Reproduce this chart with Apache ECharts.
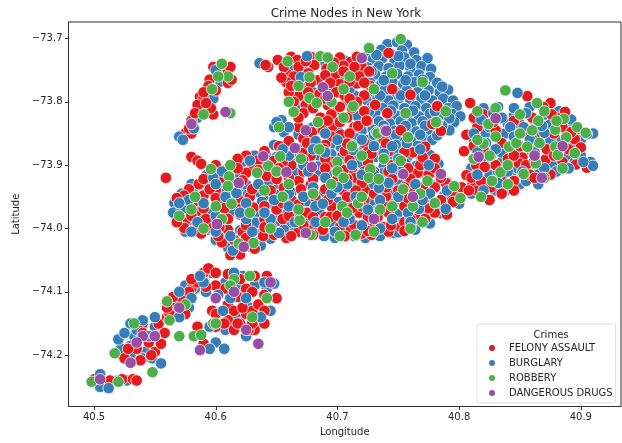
<!DOCTYPE html>
<html>
<head>
<meta charset="utf-8">
<title>Crime Nodes in New York</title>
<script src="https://cdn.jsdelivr.net/npm/echarts@6/dist/echarts.min.js"></script>
<style>
    html, body { margin: 0; padding: 0; background: #fff; }
    #main { width: 622px; height: 443px; }
</style>
</head>
<body>
<div id="main"></div>
<script type="text/javascript">
    var categories = ['FELONY ASSAULT', 'BURGLARY', 'ROBBERY', 'DANGEROUS DRUGS'];
    var xTicks = [40.5, 40.6, 40.7, 40.8, 40.9];
    var yTicks = [-74.2, -74.1, -74.0, -73.9, -73.8, -73.7];

    // [longitude, latitude]
    var burglary = [
        // north east bump
        [40.741,-73.709],[40.749,-73.706],[40.757,-73.71],[40.726,-73.722],[40.736,-73.718],[40.744,-73.724],[40.753,-73.719],[40.763,-73.722],
        [40.729,-73.733],[40.737,-73.731],[40.747,-73.735],[40.755,-73.73],[40.765,-73.734],[40.774,-73.731],[40.725,-73.746],[40.734,-73.744],
        [40.742,-73.747],[40.751,-73.743],[40.76,-73.747],[40.769,-73.744],[40.777,-73.748],[40.722,-73.759],[40.731,-73.757],[40.74,-73.76],
        [40.749,-73.756],[40.758,-73.76],[40.767,-73.757],[40.776,-73.761],[40.727,-73.77],[40.736,-73.772],[40.745,-73.768],[40.754,-73.772],
        [40.763,-73.769],[40.772,-73.773],[40.782,-73.77],[40.73,-73.784],[40.739,-73.781],[40.748,-73.785],[40.757,-73.782],[40.766,-73.785],
        [40.775,-73.782],[40.784,-73.785],[40.791,-73.781],[40.724,-73.797],[40.733,-73.795],[40.742,-73.798],[40.751,-73.794],[40.76,-73.798],
        [40.769,-73.795],[40.778,-73.798],[40.787,-73.795],[40.795,-73.798],[40.728,-73.808],[40.737,-73.81],[40.746,-73.806],[40.755,-73.81],
        [40.764,-73.807],[40.773,-73.81],[40.782,-73.806],[40.791,-73.81],[40.798,-73.807],[40.722,-73.821],[40.731,-73.819],[40.749,-73.822],
        [40.758,-73.82],[40.767,-73.823],[40.776,-73.819],[40.785,-73.822],[40.794,-73.819],[40.801,-73.823],[40.725,-73.833],[40.734,-73.831],
        [40.743,-73.834],[40.752,-73.831],[40.761,-73.834],[40.77,-73.831],[40.779,-73.834],[40.796,-73.832],[40.72,-73.846],[40.729,-73.844],
        [40.747,-73.846],[40.756,-73.844],[40.765,-73.847],[40.774,-73.844],[40.792,-73.845],[40.716,-73.858],[40.725,-73.86],[40.734,-73.857],
        [40.743,-73.86],[40.752,-73.858],[40.761,-73.861],[40.77,-73.857],[40.778,-73.86],
        [40.732,-73.726],[40.75,-73.728],[40.76,-73.74],[40.728,-73.752],[40.738,-73.766],[40.756,-73.766],[40.77,-73.765],[40.735,-73.79],
        [40.752,-73.79],[40.772,-73.79],[40.786,-73.776],[40.726,-73.815],[40.744,-73.814],[40.762,-73.814],[40.78,-73.815],[40.792,-73.826],
        [40.738,-73.838],[40.756,-73.838],[40.772,-73.838],[40.786,-73.838],[40.73,-73.852],[40.748,-73.852],[40.768,-73.852],[40.782,-73.853],
        [40.714,-73.79],[40.707,-73.8],[40.713,-73.876],[40.675,-73.728],[40.67,-73.761],[40.636,-73.739],
        [40.654,-73.829],[40.65,-73.832],[40.66,-73.84],[40.648,-73.84],[40.656,-73.848],[40.668,-73.852],
        [40.66,-73.745],[40.672,-73.75],[40.69,-73.738],[40.706,-73.735],[40.665,-73.77],[40.69,-73.765],[40.706,-73.765],[40.68,-73.785],
        [40.692,-73.78],[40.71,-73.78],[40.67,-73.81],[40.7,-73.812],[40.716,-73.822],[40.68,-73.84],[40.7,-73.845],
        // middle
        [40.722,-73.875],[40.734,-73.872],[40.746,-73.875],[40.757,-73.873],[40.768,-73.885],[40.775,-73.895],[40.742,-73.888],[40.728,-73.89],
        [40.715,-73.892],[40.742,-73.928],[40.752,-73.925],[40.764,-73.93],[40.734,-73.936],[40.776,-73.94],[40.767,-73.969],[40.789,-73.969],
        [40.75,-73.955],[40.758,-73.975],[40.776,-73.958],[40.735,-73.955],[40.745,-73.985],[40.725,-73.972],[40.71,-73.985],[40.682,-73.965],
        [40.688,-73.961],[40.695,-73.948],[40.672,-73.95],[40.66,-73.965],[40.648,-73.955],[40.652,-74.007],[40.682,-73.995],[40.72,-73.995],
        [40.698,-74.008],[40.665,-73.99],[40.645,-73.985],[40.708,-73.93],[40.69,-73.92],[40.672,-73.9],[40.66,-73.885],[40.69,-73.88],
        [40.7,-73.865],[40.682,-73.862],[40.668,-73.875],[40.65,-73.91],[40.635,-73.93],[40.625,-73.96],[40.64,-73.975],[40.625,-73.985],
        [40.62,-73.94],[40.64,-73.955],[40.605,-73.91],[40.598,-73.915],[40.617,-73.944],[40.608,-73.95],[40.59,-73.96],[40.578,-73.955],
        [40.6,-73.975],[40.585,-73.985],[40.572,-73.97],[40.614,-74.035],[40.63,-74.005],[40.612,-74.012],[40.6,-74.005],[40.582,-74.005],
        [40.648,-73.868],[40.657,-73.872],[40.676,-73.87],[40.685,-73.873],[40.694,-73.869],[40.703,-73.872],[40.712,-73.868],[40.73,-73.871],[40.748,-73.868],[40.766,-73.87],
        [40.632,-73.885],[40.641,-73.882],[40.65,-73.887],[40.668,-73.884],[40.686,-73.887],[40.695,-73.883],[40.704,-73.886],[40.722,-73.884],[40.731,-73.887],[40.749,-73.883],[40.758,-73.886],[40.776,-73.884],
        [40.612,-73.9],[40.621,-73.897],[40.63,-73.902],[40.639,-73.898],[40.657,-73.901],[40.666,-73.897],[40.684,-73.902],[40.693,-73.898],[40.702,-73.901],[40.72,-73.897],[40.738,-73.902],[40.756,-73.898],[40.765,-73.901],[40.783,-73.898],
        [40.593,-73.915],[40.602,-73.912],[40.62,-73.916],[40.638,-73.913],[40.647,-73.917],[40.665,-73.912],[40.683,-73.916],[40.692,-73.913],[40.701,-73.917],[40.71,-73.912],[40.719,-73.916],[40.737,-73.913],[40.746,-73.917],[40.764,-73.913],[40.773,-73.916],[40.782,-73.912],
        [40.58,-73.93],[40.589,-73.927],[40.598,-73.932],[40.607,-73.928],[40.625,-73.931],[40.643,-73.928],[40.652,-73.932],[40.661,-73.927],[40.679,-73.931],[40.697,-73.928],[40.715,-73.932],[40.724,-73.927],[40.751,-73.931],[40.76,-73.928],[40.778,-73.932],[40.79,-73.927],
        [40.572,-73.945],[40.581,-73.942],[40.599,-73.946],[40.608,-73.943],[40.626,-73.947],[40.635,-73.942],[40.653,-73.946],[40.662,-73.943],[40.68,-73.947],[40.689,-73.942],[40.707,-73.946],[40.716,-73.943],[40.734,-73.947],[40.743,-73.942],[40.761,-73.946],[40.77,-73.943],[40.788,-73.947],[40.797,-73.942],
        [40.566,-73.96],[40.575,-73.957],[40.584,-73.962],[40.602,-73.958],[40.611,-73.962],[40.638,-73.958],[40.647,-73.962],[40.674,-73.957],[40.683,-73.961],[40.701,-73.958],[40.71,-73.962],[40.728,-73.957],[40.746,-73.961],[40.764,-73.958],[40.782,-73.962],[40.791,-73.957],[40.8,-73.961],
        [40.565,-73.975],[40.578,-73.972],[40.596,-73.976],[40.614,-73.973],[40.632,-73.977],[40.65,-73.972],[40.659,-73.976],[40.668,-73.973],[40.686,-73.977],[40.704,-73.972],[40.713,-73.976],[40.731,-73.973],[40.749,-73.977],[40.767,-73.972],[40.785,-73.976],
        [40.57,-73.99],[40.579,-73.987],[40.597,-73.992],[40.606,-73.988],[40.633,-73.991],[40.651,-73.988],[40.66,-73.992],[40.678,-73.987],[40.696,-73.991],[40.705,-73.988],[40.723,-73.992],[40.732,-73.987],[40.75,-73.991],[40.768,-73.988],[40.776,-73.992],
        [40.575,-74.005],[40.593,-74.002],[40.611,-74.006],[40.62,-74.003],[40.638,-74.007],[40.656,-74.002],[40.665,-74.006],[40.674,-74.003],[40.692,-74.007],[40.71,-74.002],[40.719,-74.006],[40.737,-74.003],[40.746,-74.007],[40.764,-74.002],
        [40.6,-74.018],[40.609,-74.021],[40.627,-74.017],[40.636,-74.02],[40.645,-74.016],[40.689,-74.012],[40.698,-74.015],[40.714,-74.012],[40.723,-74.015],[40.735,-74.012],[40.75,-74.006],
        [40.61,-74.03],[40.618,-74.033],[40.629,-74.029],[40.637,-74.027],
        // east
        [40.812,-73.86],[40.822,-73.85],[40.835,-73.825],[40.84,-73.835],[40.848,-73.786],[40.842,-73.84],[40.853,-73.84],[40.87,-73.849],
        [40.862,-73.83],[40.875,-73.835],[40.89,-73.842],[40.905,-73.851],[40.91,-73.85],[40.91,-73.901],[40.902,-73.895],[40.89,-73.905],
        [40.875,-73.905],[40.86,-73.905],[40.845,-73.915],[40.832,-73.928],[40.82,-73.94],[40.81,-73.905],[40.815,-73.88],[40.83,-73.875],
        [40.845,-73.855],[40.858,-73.86],[40.88,-73.86],[40.85,-73.93],[40.838,-73.94],
        [40.818,-73.828],[40.828,-73.818],[40.845,-73.822],[40.855,-73.818],[40.815,-73.872],[40.824,-73.888],[40.835,-73.895],[40.814,-73.915],[40.825,-73.916],[40.84,-73.905],
        [40.83,-73.94],[40.842,-73.928],[40.852,-73.915],[40.866,-73.91],[40.88,-73.893],[40.858,-73.875],[40.868,-73.838],[40.892,-73.828],[40.898,-73.85],[40.87,-73.87],[40.81,-73.945],
        [40.82,-73.81],[40.832,-73.808],[40.845,-73.81],[40.858,-73.808],[40.87,-73.82],[40.882,-73.815],[40.825,-73.84],[40.838,-73.85],[40.852,-73.85],[40.865,-73.855],
        [40.875,-73.86],[40.892,-73.865],[40.9,-73.86],[40.822,-73.865],[40.835,-73.88],[40.848,-73.878],[40.862,-73.88],[40.875,-73.882],[40.89,-73.885],[40.9,-73.885],
        [40.82,-73.895],[40.832,-73.91],[40.848,-73.905],[40.862,-73.898],[40.878,-73.898],[40.895,-73.895],[40.908,-73.895],[40.815,-73.93],[40.825,-73.93],[40.855,-73.925],[40.865,-73.93],[40.88,-73.91],
        // north west strip
        [40.57,-73.855],[40.573,-73.86],[40.582,-73.842],[40.6,-73.75],[40.608,-73.755],[40.59,-73.81],[40.585,-73.825],[40.598,-73.795],[40.604,-73.768],
        // south west
        [40.505,-74.23],[40.505,-74.25],[40.512,-74.252],[40.52,-74.24],[40.527,-74.24],[40.53,-74.2],[40.52,-74.175],[40.525,-74.165],
        [40.53,-74.15],[40.54,-74.145],[40.55,-74.14],[40.545,-74.17],[40.533,-74.17],[40.522,-74.19],[40.548,-74.205],[40.555,-74.213],
        [40.542,-74.195],[40.565,-74.13],[40.57,-74.14],[40.57,-74.1],[40.58,-74.11],[40.59,-74.085],[40.597,-74.07],[40.587,-74.075],
        [40.602,-74.105],[40.615,-74.07],[40.622,-74.075],[40.64,-74.085],[40.648,-74.087],[40.625,-74.11],[40.645,-74.13],[40.595,-74.155],
        [40.6,-74.18],[40.607,-74.19],[40.595,-74.19],[40.608,-74.16],[40.625,-74.17],[40.63,-74.145],
        [40.535,-74.16],[40.55,-74.155],[40.53,-74.185],[40.54,-74.205],[40.553,-74.17],[40.575,-74.09],[40.583,-74.095],[40.592,-74.1],
        [40.608,-74.085],[40.618,-74.095],[40.632,-74.09],[40.612,-74.11],[40.606,-74.13],[40.618,-74.14],[40.636,-74.135],[40.642,-74.095],[40.628,-74.125],[40.578,-74.125]
    ];
    var felonyAssault = [
        // north mass
        [40.651,-73.734],[40.662,-73.729],[40.667,-73.734],[40.678,-73.729],[40.702,-73.73],[40.711,-73.737],[40.716,-73.729],[40.643,-73.745],[40.641,-73.742],
        [40.658,-73.755],[40.668,-73.745],[40.681,-73.742],[40.691,-73.748],[40.705,-73.743],[40.72,-73.745],[40.664,-73.76],[40.684,-73.766],
        [40.698,-73.758],[40.71,-73.755],[40.726,-73.752],[40.658,-73.769],[40.716,-73.771],[40.672,-73.778],[40.702,-73.772],[40.727,-73.775],
        [40.668,-73.791],[40.685,-73.788],[40.699,-73.785],[40.722,-73.79],[40.66,-73.785],[40.674,-73.805],[40.692,-73.805],[40.712,-73.81],
        [40.672,-73.818],[40.695,-73.82],[40.708,-73.825],[40.686,-73.825],[40.722,-73.815],[40.679,-73.848],[40.696,-73.838],[40.714,-73.84],
        [40.717,-73.838],[40.703,-73.852],[40.688,-73.845],[40.668,-73.84],
        [40.656,-73.745],[40.674,-73.736],[40.697,-73.738],[40.714,-73.745],[40.654,-73.762],[40.676,-73.755],[40.69,-73.758],[40.705,-73.752],[40.718,-73.76],
        [40.662,-73.775],[40.678,-73.77],[40.694,-73.77],[40.71,-73.768],[40.722,-73.77],[40.676,-73.785],[40.69,-73.795],[40.706,-73.79],[40.716,-73.8],
        [40.664,-73.8],[40.68,-73.81],[40.702,-73.808],[40.71,-73.795],[40.668,-73.825],[40.692,-73.83],[40.702,-73.832],[40.71,-73.85],[40.725,-73.83],[40.695,-73.855],[40.672,-73.858],
        // west of the main mass
        [40.66,-73.862],[40.675,-73.865],[40.69,-73.868],[40.706,-73.878],[40.652,-73.87],[40.64,-73.878],[40.648,-73.893],[40.625,-73.885],[40.618,-73.89],
        [40.63,-73.9],[40.642,-73.917],[40.662,-73.9],[40.678,-73.885],[40.695,-73.895],[40.712,-73.905],[40.625,-73.912],[40.6,-73.9],[40.61,-73.905],
        [40.586,-73.93],[40.578,-73.938],[40.574,-73.948],[40.59,-73.948],[40.6,-73.94],[40.612,-73.925],[40.628,-73.95],[40.645,-73.94],[40.656,-73.936],
        [40.668,-73.925],[40.678,-73.931],[40.69,-73.938],[40.704,-73.939],[40.715,-73.92],[40.724,-73.939],[40.62,-73.965],[40.631,-73.967],[40.65,-73.97],
        [40.662,-73.955],[40.675,-73.975],[40.695,-73.965],[40.708,-73.95],[40.718,-73.975],[40.575,-73.987],[40.574,-73.999],[40.568,-73.99],[40.585,-73.972],
        [40.596,-73.999],[40.61,-74.002],[40.61,-73.985],[40.622,-74.005],[40.639,-74.012],[40.646,-73.999],[40.655,-73.985],[40.668,-74.005],[40.62,-74.041],
        [40.625,-74.015],[40.605,-74.022],[40.658,-74.015],[40.68,-74.0],[40.69,-73.982],[40.694,-73.982],[40.71,-74.002],[40.72,-74.008],
        [40.733,-73.982],[40.738,-73.998],[40.728,-74.01],[40.742,-74.005],[40.752,-73.998],[40.74,-73.949],[40.722,-73.955],[40.755,-73.99],[40.765,-73.985],[40.774,-73.979],
        [40.78,-73.975],[40.772,-73.96],[40.762,-73.94],[40.755,-73.965],[40.789,-73.928],[40.794,-73.945],[40.785,-73.955],[40.766,-73.912],[40.78,-73.935],
        [40.73,-73.91],[40.745,-73.9],[40.758,-73.905],[40.772,-73.871],[40.762,-73.88],[40.742,-73.878],[40.722,-73.865],[40.738,-73.86],[40.752,-73.845],
        [40.735,-73.925],[40.75,-73.94],[40.775,-73.915],[40.768,-73.9],[40.725,-73.895],
        [40.655,-73.878],[40.671,-73.881],[40.689,-73.875],[40.708,-73.866],[40.725,-73.879],[40.74,-73.866],[40.755,-73.88],[40.77,-73.888],
        [40.635,-73.892],[40.655,-73.895],[40.672,-73.892],[40.69,-73.89],[40.71,-73.892],[40.728,-73.882],[40.752,-73.892],[40.78,-73.89],
        [40.605,-73.92],[40.618,-73.905],[40.635,-73.908],[40.652,-73.905],[40.672,-73.91],[40.69,-73.905],[40.705,-73.908],[40.722,-73.91],[40.742,-73.91],[40.76,-73.922],[40.78,-73.905],
        [40.59,-73.922],[40.595,-73.938],[40.622,-73.924],[40.65,-73.922],[40.66,-73.92],[40.68,-73.922],[40.7,-73.922],[40.708,-73.922],[40.72,-73.928],[40.745,-73.922],[40.755,-73.935],[40.785,-73.92],
        [40.582,-73.958],[40.6,-73.952],[40.63,-73.938],[40.655,-73.96],[40.67,-73.938],[40.682,-73.952],[40.698,-73.938],[40.715,-73.94],[40.73,-73.945],[40.74,-73.935],[40.77,-73.935],[40.795,-73.958],
        [40.568,-73.952],[40.572,-73.962],[40.59,-73.968],[40.607,-73.968],[40.618,-73.952],[40.64,-73.965],[40.668,-73.962],[40.692,-73.955],[40.72,-73.965],[40.738,-73.965],[40.758,-73.952],[40.775,-73.968],[40.79,-73.978],
        [40.58,-73.98],[40.592,-73.985],[40.62,-73.978],[40.64,-73.985],[40.66,-73.98],[40.68,-73.982],[40.7,-73.98],[40.712,-73.968],[40.725,-73.982],[40.742,-73.975],[40.76,-73.985],[40.772,-73.985],
        [40.585,-73.995],[40.603,-73.998],[40.625,-73.995],[40.64,-73.998],[40.672,-73.995],[40.688,-74.002],[40.702,-73.998],[40.714,-73.995],[40.73,-73.998],[40.744,-73.995],[40.76,-73.997],
        [40.588,-74.008],[40.602,-74.012],[40.615,-74.018],[40.648,-74.01],[40.662,-74.012],[40.68,-74.01],[40.706,-74.012],[40.725,-74.004],[40.755,-74.004],[40.632,-74.032],[40.612,-74.042],
        // red inside the north east bump
        [40.742,-73.723],[40.745,-73.78],[40.76,-73.789],[40.782,-73.807],[40.741,-73.818],[40.785,-73.846],[40.731,-73.805],[40.724,-73.83],[40.778,-73.835],
        // east lobe
        [40.809,-73.802],[40.806,-73.852],[40.804,-73.878],[40.806,-73.916],[40.811,-73.93],[40.814,-73.9],[40.821,-73.903],[40.802,-73.935],[40.815,-73.94],[40.825,-73.955],
        [40.835,-73.945],[40.815,-73.84],[40.82,-73.82],[40.83,-73.845],[40.812,-73.825],[40.856,-73.791],[40.875,-73.802],[40.869,-73.808],[40.887,-73.816],
        [40.88,-73.825],[40.86,-73.825],[40.85,-73.835],[40.895,-73.859],[40.885,-73.84],[40.868,-73.85],[40.852,-73.888],[40.849,-73.897],[40.871,-73.891],
        [40.84,-73.89],[40.83,-73.9],[40.855,-73.9],[40.896,-73.899],[40.905,-73.904],[40.885,-73.895],[40.85,-73.87],[40.835,-73.865],[40.872,-73.875],
        [40.845,-73.925],[40.858,-73.915],[40.875,-73.915],[40.826,-73.885],[40.9,-73.872],
        [40.81,-73.92],[40.818,-73.925],[40.808,-73.94],[40.826,-73.935],[40.845,-73.885],[40.862,-73.892],[40.835,-73.918],[40.845,-73.94],[40.862,-73.92],
        [40.878,-73.885],[40.89,-73.875],[40.828,-73.832],[40.845,-73.83],[40.876,-73.82],[40.892,-73.848],[40.812,-73.87],[40.878,-73.85],[40.82,-73.875],[40.858,-73.85],
        // north west strip
        [40.598,-73.745],[40.602,-73.752],[40.61,-73.75],[40.61,-73.77],[40.613,-73.765],[40.595,-73.765],[40.594,-73.775],[40.587,-73.792],
        [40.598,-73.82],[40.59,-73.795],[40.585,-73.805],[40.58,-73.83],[40.596,-73.81],[40.575,-73.85],[40.58,-73.85],
        [40.6,-73.782],[40.59,-73.785],[40.605,-73.74],[40.612,-73.745],[40.592,-73.802],[40.583,-73.818],[40.578,-73.842],
        // loose points
        [40.559,-73.92],[40.58,-73.887],[40.585,-73.893],[40.588,-73.898],
        // south west
        [40.5,-74.238],[40.513,-74.24],[40.523,-74.238],[40.532,-74.238],[40.535,-74.24],[40.525,-74.205],[40.535,-74.19],[40.54,-74.15],
        [40.545,-74.18],[40.55,-74.195],[40.555,-74.182],[40.547,-74.2],[40.558,-74.165],[40.553,-74.15],[40.56,-74.14],[40.562,-74.135],
        [40.568,-74.118],[40.572,-74.11],[40.565,-74.108],[40.58,-74.095],[40.59,-74.07],[40.594,-74.063],[40.6,-74.07],[40.6,-74.09],
        [40.597,-74.13],[40.6,-74.135],[40.61,-74.12],[40.615,-74.13],[40.61,-74.145],[40.625,-74.135],[40.63,-74.13],[40.62,-74.15],
        [40.64,-74.15],[40.632,-74.16],[40.627,-74.16],[40.615,-74.16],[40.625,-74.095],[40.64,-74.105],[40.65,-74.11],[40.635,-74.12],
        [40.62,-74.08],[40.632,-74.075],[40.6,-74.155],[40.59,-74.182],[40.585,-74.155],
        [40.528,-74.19],[40.54,-74.165],[40.538,-74.208],[40.56,-74.125],[40.578,-74.1],[40.585,-74.085],[40.592,-74.092],[40.61,-74.072],[40.608,-74.095],
        [40.618,-74.108],[40.63,-74.1],[40.64,-74.13],[40.622,-74.125],[40.618,-74.15],[40.63,-74.15],[40.607,-74.15],[40.58,-74.08],[40.575,-74.135],[40.642,-74.075]
    ];
    // burglary points that lie over the red ones in the picture
    var burglaryOver = [
        [40.675,-73.728],[40.67,-73.761],[40.654,-73.829],[40.65,-73.832],[40.66,-73.84],[40.7,-73.86],[40.69,-73.85],[40.713,-73.876],[40.72,-73.86],[40.73,-73.87],
        [40.745,-73.87],[40.757,-73.865],[40.768,-73.875],[40.738,-73.882],[40.75,-73.89],[40.775,-73.9],[40.712,-73.9],[40.72,-73.915],[40.742,-73.928],[40.752,-73.91],
        [40.764,-73.93],[40.73,-73.93],[40.734,-73.936],[40.776,-73.945],[40.79,-73.94],[40.767,-73.969],[40.789,-73.969],[40.75,-73.95],[40.758,-73.975],[40.735,-73.955],
        [40.745,-73.985],[40.725,-73.97],[40.71,-73.985],[40.682,-73.965],[40.688,-73.961],[40.695,-73.945],[40.672,-73.95],[40.66,-73.965],[40.648,-73.955],[40.652,-74.007],
        [40.682,-73.99],[40.72,-73.995],[40.698,-74.005],[40.665,-73.99],[40.645,-73.985],[40.708,-73.93],[40.69,-73.92],[40.672,-73.9],[40.66,-73.885],[40.69,-73.88],
        [40.682,-73.862],[40.65,-73.91],[40.635,-73.93],[40.625,-73.96],[40.64,-73.975],[40.625,-73.985],[40.617,-73.944],[40.605,-73.91],[40.598,-73.92],[40.578,-73.955],
        [40.608,-73.95],[40.59,-73.96],[40.6,-73.98],[40.585,-73.99],[40.572,-73.97],[40.614,-74.035],[40.63,-74.005],[40.612,-74.012],[40.6,-74.005],[40.58,-74.005],
        [40.676,-73.91],[40.7,-73.935],[40.715,-73.95],[40.68,-73.935],[40.66,-73.945],[40.705,-73.99],[40.735,-74.0],[40.76,-73.99],[40.77,-73.955],[40.68,-73.875],
        [40.655,-73.875],[40.628,-73.893],[40.62,-73.975],[40.6,-73.93],[40.57,-73.96],[40.73,-73.915],[40.745,-73.905],
        [40.848,-73.786],[40.842,-73.84],[40.853,-73.84],[40.87,-73.849],[40.835,-73.825],[40.91,-73.85],[40.905,-73.851],[40.91,-73.901],[40.902,-73.895],[40.89,-73.905],
        [40.832,-73.928],[40.82,-73.94],[40.815,-73.88],[40.83,-73.875],[40.845,-73.855],[40.858,-73.86],[40.818,-73.828],[40.828,-73.818],[40.855,-73.818],[40.868,-73.838],
        [40.815,-73.915],[40.84,-73.91],[40.87,-73.905],[40.852,-73.91],[40.812,-73.85],
        [40.505,-74.23],[40.505,-74.25],[40.512,-74.252],[40.52,-74.175],[40.525,-74.165],[40.53,-74.15],[40.54,-74.145],[40.55,-74.14],[40.545,-74.17],[40.555,-74.213],
        [40.57,-74.1],[40.58,-74.11],[40.59,-74.085],[40.587,-74.075],[40.602,-74.105],[40.615,-74.07],[40.64,-74.085],[40.648,-74.087],[40.625,-74.11],[40.595,-74.155],
        [40.607,-74.19],[40.595,-74.19],[40.57,-74.14],[40.612,-74.11],[40.606,-74.13],[40.637,-74.14],[40.57,-73.855],[40.573,-73.86],[40.582,-73.842],[40.6,-73.75]
    ];
    var robbery = [
        [40.752,-73.701],[40.726,-73.715],[40.77,-73.769],[40.789,-73.815],[40.782,-73.832],[40.781,-73.832],[40.756,-73.818],[40.732,-73.848],[40.733,-73.85],
        [40.713,-73.807],[40.758,-73.856],[40.752,-73.893],[40.727,-73.906],[40.7,-73.895],[40.7,-73.91],[40.774,-73.925],[40.717,-73.96],[40.702,-74.012],
        [40.801,-73.952],[40.796,-73.933],[40.704,-73.965],[40.726,-73.92],[40.734,-73.922],[40.754,-73.938],[40.669,-73.987],[40.72,-73.95],[40.735,-73.97],
        [40.77,-73.99],[40.762,-73.965],[40.69,-73.99],[40.678,-74.01],[40.712,-73.87],[40.73,-73.78],[40.745,-73.755],[40.71,-73.76],
        [40.659,-73.736],[40.686,-73.728],[40.692,-73.73],[40.677,-73.761],[40.696,-73.745],[40.677,-73.794],[40.683,-73.802],[40.664,-73.816],[40.652,-73.84],[40.684,-73.832],
        [40.668,-73.775],[40.705,-73.78],[40.66,-73.8],[40.695,-73.8],[40.705,-73.825],
        [40.634,-73.912],[40.643,-73.901],[40.653,-73.886],[40.67,-73.89],[40.596,-73.906],[40.611,-73.918],[40.61,-73.933],[40.613,-73.961],[40.583,-73.95],
        [40.619,-74.024],[40.631,-74.023],[40.64,-73.94],[40.655,-73.95],[40.68,-73.945],[40.668,-73.97],[40.645,-74.0],[40.57,-73.98],[40.59,-74.0],[40.6,-73.965],
        [40.612,-73.9],[40.695,-73.93],[40.708,-73.975],
        [40.72,-73.885],[40.738,-73.89],[40.705,-73.92],[40.745,-73.965],[40.76,-74.0],[40.715,-74.01],[40.73,-74.005],[40.66,-73.93],[40.685,-73.875],[40.628,-73.975],
        [40.65,-73.91],[40.58,-73.97],[40.605,-73.985],[40.78,-73.96],[40.768,-73.945],
        [40.838,-73.782],[40.864,-73.802],[40.82,-73.866],[40.824,-73.835],[40.886,-73.827],[40.897,-73.84],[40.904,-73.849],[40.888,-73.856],[40.879,-73.844],
        [40.841,-73.871],[40.856,-73.871],[40.847,-73.865],[40.866,-73.865],[40.879,-73.871],[40.881,-73.884],[40.895,-73.881],[40.863,-73.897],[40.853,-73.914],
        [40.827,-73.925],[40.834,-73.911],[40.865,-73.83],[40.815,-73.815],[40.83,-73.81],[40.87,-73.92],[40.86,-73.845],[40.818,-73.95],[40.84,-73.9],
        [40.85,-73.82],[40.87,-73.815],[40.83,-73.855],[40.85,-73.85],[40.825,-73.885],[40.815,-73.86],[40.812,-73.89],[40.88,-73.83],[40.84,-73.93],[40.885,-73.905],
        [40.61,-73.76],[40.602,-73.76],[40.597,-73.78],[40.59,-73.82],[40.612,-73.818],[40.605,-73.74],
        [40.498,-74.242],[40.517,-74.197],[40.52,-74.242],[40.548,-74.227],[40.582,-74.17],[40.588,-74.168],[40.57,-74.17],[40.533,-74.15],[40.575,-74.12],[40.562,-74.145],
        [40.615,-74.08],[40.598,-74.15],[40.628,-74.075],[40.642,-74.11],[40.63,-74.14],[40.612,-74.09],[40.56,-74.115],[40.6,-74.15]
    ];
    var dangerousDrugs = [
        [40.72,-73.731],[40.739,-73.845],[40.74,-73.846],[40.754,-73.914],[40.785,-73.914],[40.762,-73.95],[40.665,-73.873],[40.679,-73.903],[40.658,-73.911],
        [40.674,-74.007],[40.688,-73.777],[40.692,-73.791],[40.674,-73.845],[40.639,-73.886],[40.619,-73.928],[40.601,-73.993],[40.623,-74.029],[40.73,-73.985],
        [40.608,-73.816],[40.58,-73.835],[40.83,-73.826],[40.816,-73.887],[40.868,-73.92],[40.862,-73.885],[40.885,-73.87],
        [40.505,-74.238],[40.53,-74.212],[40.54,-74.17],[40.535,-74.18],[40.55,-74.17],[40.57,-74.125],[40.6,-74.11],[40.615,-74.1],[40.625,-74.16],[40.587,-74.192],[40.635,-74.182],[40.645,-74.085]
    ];

    var myChart = echarts.init(document.getElementById('main'));
    var fontName = 'DejaVu Sans';
    var textColor = '#262626';

    function scatterSeries(name, color, data) {
        return {
            name: name,
            type: 'scatter',
            data: data,
            symbolSize: 11.5,
            itemStyle: { color: color, opacity: 1, borderColor: '#fff', borderWidth: 0.8 },
            emphasis: { disabled: true },
            animation: false
        };
    }

    function axisOption(name, min, max, ticks, gap, formatter) {
        return {
            type: 'value',
            name: name,
            nameLocation: 'middle',
            nameGap: gap,
            nameTextStyle: { fontFamily: fontName, fontSize: 10, color: textColor },
            min: min,
            max: max,
            splitLine: { show: false },
            axisLine: { onZero: false, lineStyle: { color: '#333', width: 1 } },
            axisTick: { length: 3.5, lineStyle: { color: '#333' }, customValues: ticks },
            axisLabel: {
                fontFamily: fontName, fontSize: 10, color: textColor, margin: 6,
                customValues: ticks, formatter: formatter
            }
        };
    }

    var option = {
        backgroundColor: '#fff',
        animation: false,
        title: [
            {
                text: 'Crime Nodes in New York', left: 341, top: 3, textAlign: 'center',
                textStyle: { fontFamily: fontName, fontSize: 12, fontWeight: 'normal', color: textColor }
            },
            {
                text: 'Crimes', left: 546, top: 325, textAlign: 'center', z: 20,
                textStyle: { fontFamily: fontName, fontSize: 10, fontWeight: 'normal', color: textColor }
            }
        ],
        grid: {
            left: 68.5, right: 1, top: 22, bottom: 36.5,
            show: true, borderColor: '#333', borderWidth: 1, backgroundColor: '#fff'
        },
        legend: {
            data: categories,
            orient: 'vertical',
            left: 477,
            top: 324,
            padding: [18, 3, 4, 10],
            itemWidth: 8,
            itemHeight: 8,
            itemGap: 3,
            backgroundColor: '#fff',
            borderColor: '#ddd',
            borderWidth: 1,
            borderRadius: 2,
            icon: 'circle',
            selectedMode: false,
            textStyle: { fontFamily: fontName, fontSize: 10, color: textColor, padding: [0, 0, 0, 8], lineHeight: 12 }
        },
        xAxis: axisOption('Longitude', 40.479, 40.933, xTicks, 21, function (v) { return v.toFixed(1); }),
        yAxis: axisOption('Latitude', -74.281, -73.674, yTicks, 36, function (v) { return v.toFixed(1).replace('-', '\u2212'); }),
        series: [
            scatterSeries('BURGLARY', '#377eb8', burglary),
            scatterSeries('FELONY ASSAULT', '#e41a1c', felonyAssault),
            scatterSeries('BURGLARY', '#377eb8', burglaryOver),
            scatterSeries('ROBBERY', '#4daf4a', robbery),
            scatterSeries('DANGEROUS DRUGS', '#984ea3', dangerousDrugs)
        ]
    };
    myChart.setOption(option);
</script>
</body>
</html>
